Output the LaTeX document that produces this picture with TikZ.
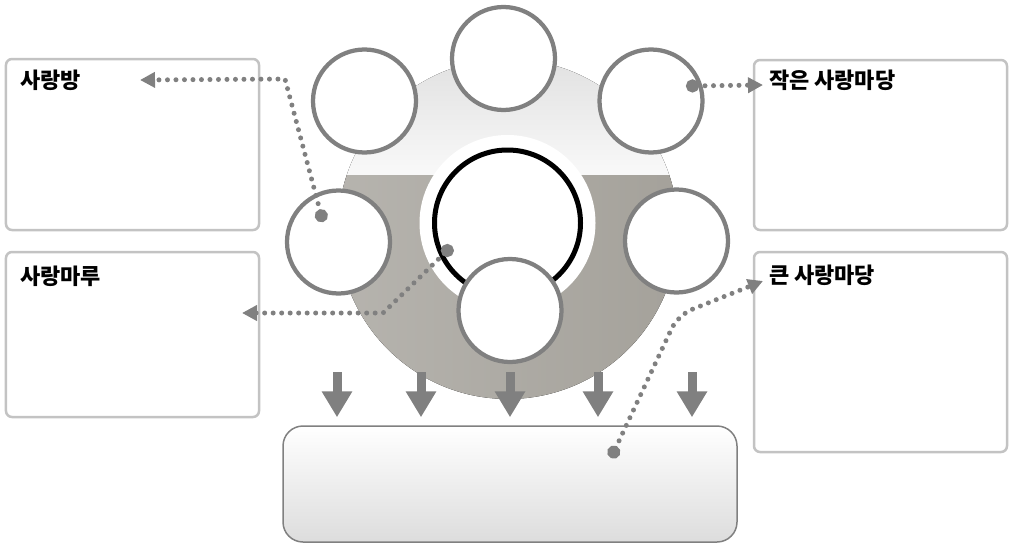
\documentclass[tikz,border=0pt]{standalone}
\usepackage{fontspec}
\newfontfamily\kr{Noto Sans CJK KR}
\usetikzlibrary{arrows.meta}

\definecolor{ringgray}{RGB}{128,128,128}
\definecolor{boxline}{RGB}{195,195,195}
\definecolor{disclow}{RGB}{164,161,154}

\begin{document}
\begin{tikzpicture}[
	room/.style = {circle, draw = ringgray, line width = 0.085cm, fill = white, minimum size = 2.06cm, inner sep = 0pt},
	panel/.style = {draw = boxline, line width = 0.05cm, rounded corners = 0.12cm, inner sep = 0pt},
	title/.style = {anchor = west, inner sep = 0pt, font = \kr\bfseries\fontsize{12.5}{15}\selectfont},
	flow/.style = {draw = ringgray, line width = 0.18cm, -{Triangle[length = 0.52cm, width = 0.58cm]}},
	link/.style = {draw = ringgray, line width = 0.1cm, line cap = round, dash pattern = on 0pt off 0.17cm,
		{Circle[length = 0.26cm]}-{Triangle[length = 0.3cm, width = 0.3cm]}}
	]
	\useasboundingbox (0,0) rectangle (20.18,10.9);
	
	% big disc, light on top and grey below
	\begin{scope}
	\clip (10.16,6.32) circle (3.4);
	\fill[top color = gray!24, bottom color = gray!5] (6.7,9.8) rectangle (13.7,7.4);
	\fill[left color = disclow!80, right color = disclow] (6.7,7.4) rectangle (13.7,2.9);
	\end{scope}
	\fill[white] (10.15,6.44) circle (1.76);
	
	\node[circle, draw = black, line width = 0.1cm, fill = white, minimum size = 2.92cm] (hall) at (10.15,6.44) {};
	
	\node[room] (top) at (10.07,9.73) {};
	\node[room] (topleft) at (7.29,8.88) {};
	\node[room] (topright) at (13.02,8.88) {};
	\node[room] (left) at (6.77,6.06) {};
	\node[room] (right) at (13.53,6.08) {};
	\node[room] (bottom) at (10.2,4.69) {};
	
	% boxes at the sides and below
	\node[panel, minimum width = 5.06cm, minimum height = 3.42cm] (bangbox) at (2.65,8.01) {};
	\node[panel, minimum width = 5.06cm, minimum height = 3.30cm] (marubox) at (2.65,4.21) {};
	\node[panel, minimum width = 5.06cm, minimum height = 3.40cm] (smallbox) at (17.61,8.0) {};
	\node[panel, minimum width = 5.06cm, minimum height = 4.00cm] (bigbox) at (17.61,3.86) {};
	\node[draw = ringgray, line width = 0.03cm, rounded corners = 0.4cm, top color = white, bottom color = gray!27,
		minimum width = 9.08cm, minimum height = 2.32cm] (base) at (10.2,1.22) {};
	
	\node[title] (bang) at ([shift = {(0.3,-0.46)}]bangbox.north west) {사랑방};
	\node[title] (maru) at ([shift = {(0.3,-0.51)}]marubox.north west) {사랑마루};
	\node[title] (small) at ([shift = {(0.32,-0.44)}]smallbox.north west) {작은 사랑마당};
	\node[title] (big) at ([shift = {(0.32,-0.49)}]bigbox.north west) {큰 사랑마당};
	
	\foreach \x in {6.74,8.42,10.2,11.96,13.84}
		\draw[flow, shorten >= 0.16cm] (\x,3.46) -- (\x,0 |- base.north);
	
	% dotted pointers
	\coordinate (bangfrom) at (6.46,6.46);
	\coordinate (bangto) at (2.8,9.3);
	\coordinate (marufrom) at (9.04,5.98);
	\coordinate (maruto) at (4.84,4.64);
	\coordinate (smallfrom) at (13.72,9.18);
	\coordinate (smallto) at (15.26,9.2);
	\coordinate (bigfrom) at (12.22,1.74);
	\coordinate (bigto) at (15.26,5.28);
	
	\draw[link] (bangfrom) -- (5.7,9.32) -- (bangto);
	\draw[link] (marufrom) -- (7.66,4.64) -- (maruto);
	\draw[link] (smallfrom) -- (smallto);
	\draw[link, rounded corners = 0.3cm] (bigfrom) -- (13.56,4.6) -- (bigto);
\end{tikzpicture}
\end{document}
